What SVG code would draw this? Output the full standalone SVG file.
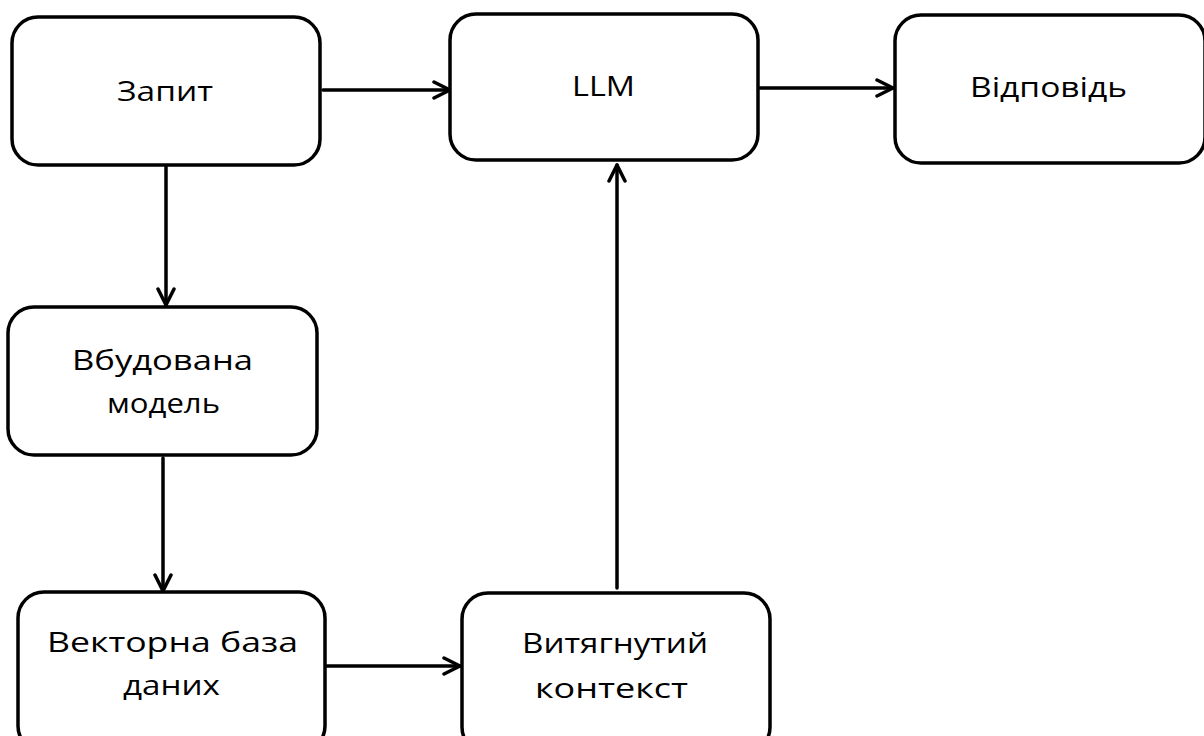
<svg xmlns="http://www.w3.org/2000/svg" width="1204" height="736" viewBox="0 0 1204 736">
<defs>
<style>
.box{fill:#fff;stroke:#000;stroke-width:3.5;}
.lbl{font-family:"Open Sans","Liberation Sans",sans-serif;font-size:27px;fill:#000;}
.con{fill:none;stroke:#000;stroke-width:3.5;stroke-linecap:round;}
.ah{fill:none;stroke:#000;stroke-width:3.5;stroke-linecap:round;stroke-linejoin:round;}
</style>
<marker id="arr" viewBox="0 0 20 20" refX="18" refY="10" markerWidth="20" markerHeight="20" markerUnits="userSpaceOnUse" orient="auto">
<path d="M2,2 L18,10 L2,18" class="ah"/>
</marker>
</defs>
<rect width="1204" height="736" fill="#fff"/>
<g id="connectors">
<path class="con" d="M323,90 L450,90" marker-end="url(#arr)"/>
<path class="con" d="M760,88 L893,88" marker-end="url(#arr)"/>
<path class="con" d="M166,167 L166,305" marker-end="url(#arr)"/>
<path class="con" d="M163,458 L163,591" marker-end="url(#arr)"/>
<path class="con" d="M327,666 L460,666" marker-end="url(#arr)"/>
<path class="con" d="M617,588 L617,165" marker-end="url(#arr)"/>
</g>
<g id="n-zapyt">
<rect class="box" x="12" y="17" width="308" height="148" rx="26"/>
<text class="lbl" x="117" y="101" textLength="96" lengthAdjust="spacingAndGlyphs">Запит</text>
</g>
<g id="n-llm">
<rect class="box" x="450" y="14" width="308" height="146" rx="26"/>
<text class="lbl" x="572" y="96" textLength="63" lengthAdjust="spacingAndGlyphs">LLM</text>
</g>
<g id="n-vidpovid">
<rect class="box" x="895" y="15" width="310" height="148" rx="26"/>
<text class="lbl" x="970" y="97" textLength="157" lengthAdjust="spacingAndGlyphs">Відповідь</text>
</g>
<g id="n-vbudovana">
<rect class="box" x="8" y="307" width="309" height="148" rx="26"/>
<text class="lbl" x="72" y="370" textLength="181" lengthAdjust="spacingAndGlyphs">Вбудована</text>
<text class="lbl" x="107" y="413" textLength="113" lengthAdjust="spacingAndGlyphs">модель</text>
</g>
<g id="n-vektorna">
<rect class="box" x="18" y="592" width="307" height="160" rx="26"/>
<text class="lbl" x="47" y="652" textLength="251" lengthAdjust="spacingAndGlyphs">Векторна база</text>
<text class="lbl" x="123" y="695" textLength="97" lengthAdjust="spacingAndGlyphs">даних</text>
</g>
<g id="n-vytyahnutyi">
<rect class="box" x="462" y="593" width="308" height="160" rx="26"/>
<text class="lbl" x="522" y="653" textLength="186" lengthAdjust="spacingAndGlyphs">Витягнутий</text>
<text class="lbl" x="535" y="698" textLength="153" lengthAdjust="spacingAndGlyphs">контекст</text>
</g>
</svg>
